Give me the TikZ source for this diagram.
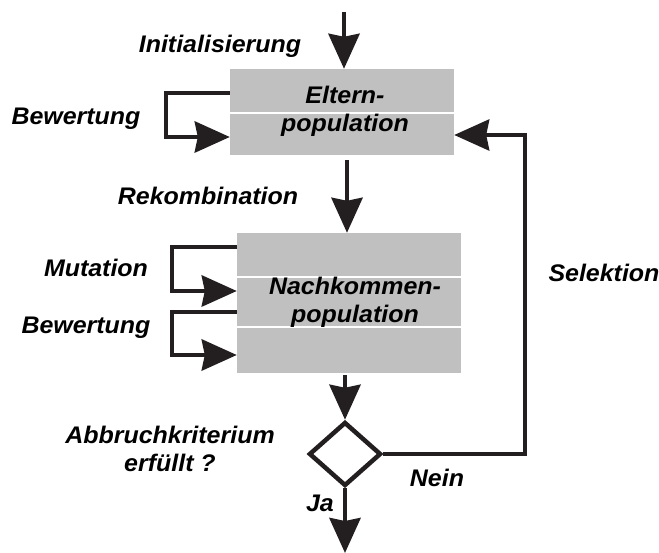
\documentclass[tikz,border=0pt]{standalone}
\usepackage{fontspec}
\newfontfamily\lblfont{Liberation Sans}[FakeStretch=1.04]
\usepackage{xcolor}
\usetikzlibrary{shapes.geometric,arrows.meta,positioning,calc}
\definecolor{linecol}{HTML}{231F20}
\definecolor{boxgray}{HTML}{C0C0C0}

\begin{document}
\begin{tikzpicture}[
    x=1pt, y=-1pt,
    lbl/.style={font=\lblfont\bfseries\itshape\fontsize{24}{28}\selectfont, align=center, inner sep=0pt},
    popbox/.style={rectangle, fill=boxgray, minimum width=224pt, inner sep=0pt},
    divider/.style={draw=white, line width=1.2pt},
    flow/.style={draw=linecol, line width=4.5pt, -{Stealth[width=31pt, length=35pt, inset=3pt]}},
    crit/.style={diamond, draw=linecol, line width=4.5pt, minimum width=72pt, minimum height=64pt, inner sep=0pt}
]
    \useasboundingbox (0,0) rectangle (659,553);

    % populations
    \node [popbox, minimum height=86pt] (eltern) at (342,112) {};
    \node [popbox, minimum height=140pt] (nachk) at (349,303) {};
    \draw [divider] (eltern.west |- 0,113) -- (eltern.east |- 0,113);
    \draw [divider] (nachk.west |- 0,277) -- (nachk.east |- 0,277);
    \draw [divider] (nachk.west |- 0,327) -- (nachk.east |- 0,327);
    \node [lbl] (elterntxt) at (345,111) {Eltern-\\population};
    \node [lbl] (nachktxt) at (355,302) {Nachkommen-\\population};

    % decision
    \node [crit] (abbruch) at (345,454) {};

    \coordinate (start) at (344,12);
    \coordinate (stop) at (345,553);

    % main flow
    \draw [flow] (start) -- (eltern.north -| start);
    \draw [flow] ([yshift=-5pt]eltern.south -| 347,0) -- (nachk.north -| 347,0);
    \draw [flow] ([yshift=-2pt]nachk.south -| abbruch.north) -- (abbruch.north);
    \draw [flow] (abbruch.south) -- (stop);
    \draw [flow, line width=4pt] (abbruch.east) -- (525,454) |- (eltern.east |- 0,135);

    % loops
    \draw [flow] (eltern.west |- 0,93) -| (166,115) |- (eltern.west |- 0,137);
    \draw [flow] (nachk.west |- 0,247) -| (172,270) |- (nachk.west |- 0,291);
    \draw [flow] (nachk.west |- 0,312) -| (172,333) |- (nachk.west |- 0,355);

    % labels
    \node [lbl] (init) at (220,46) {Initialisierung};
    \node [lbl] (bew1) at (76,119) {Bewertung};
    \node [lbl] (rekomb) at (208,196) {Rekombination};
    \node [lbl] (mut) at (96,268) {Mutation};
    \node [lbl] (bew2) at (86,328) {Bewertung};
    \node [lbl] (sel) at (604,273) {Selektion};
    \node [lbl] (krit) at (170,449) {Abbruchkriterium\\erfüllt ?};
    \node [lbl] (nein) at (437,478) {Nein};
    \node [lbl] (ja) at (320,503) {Ja};
\end{tikzpicture}
\end{document}
